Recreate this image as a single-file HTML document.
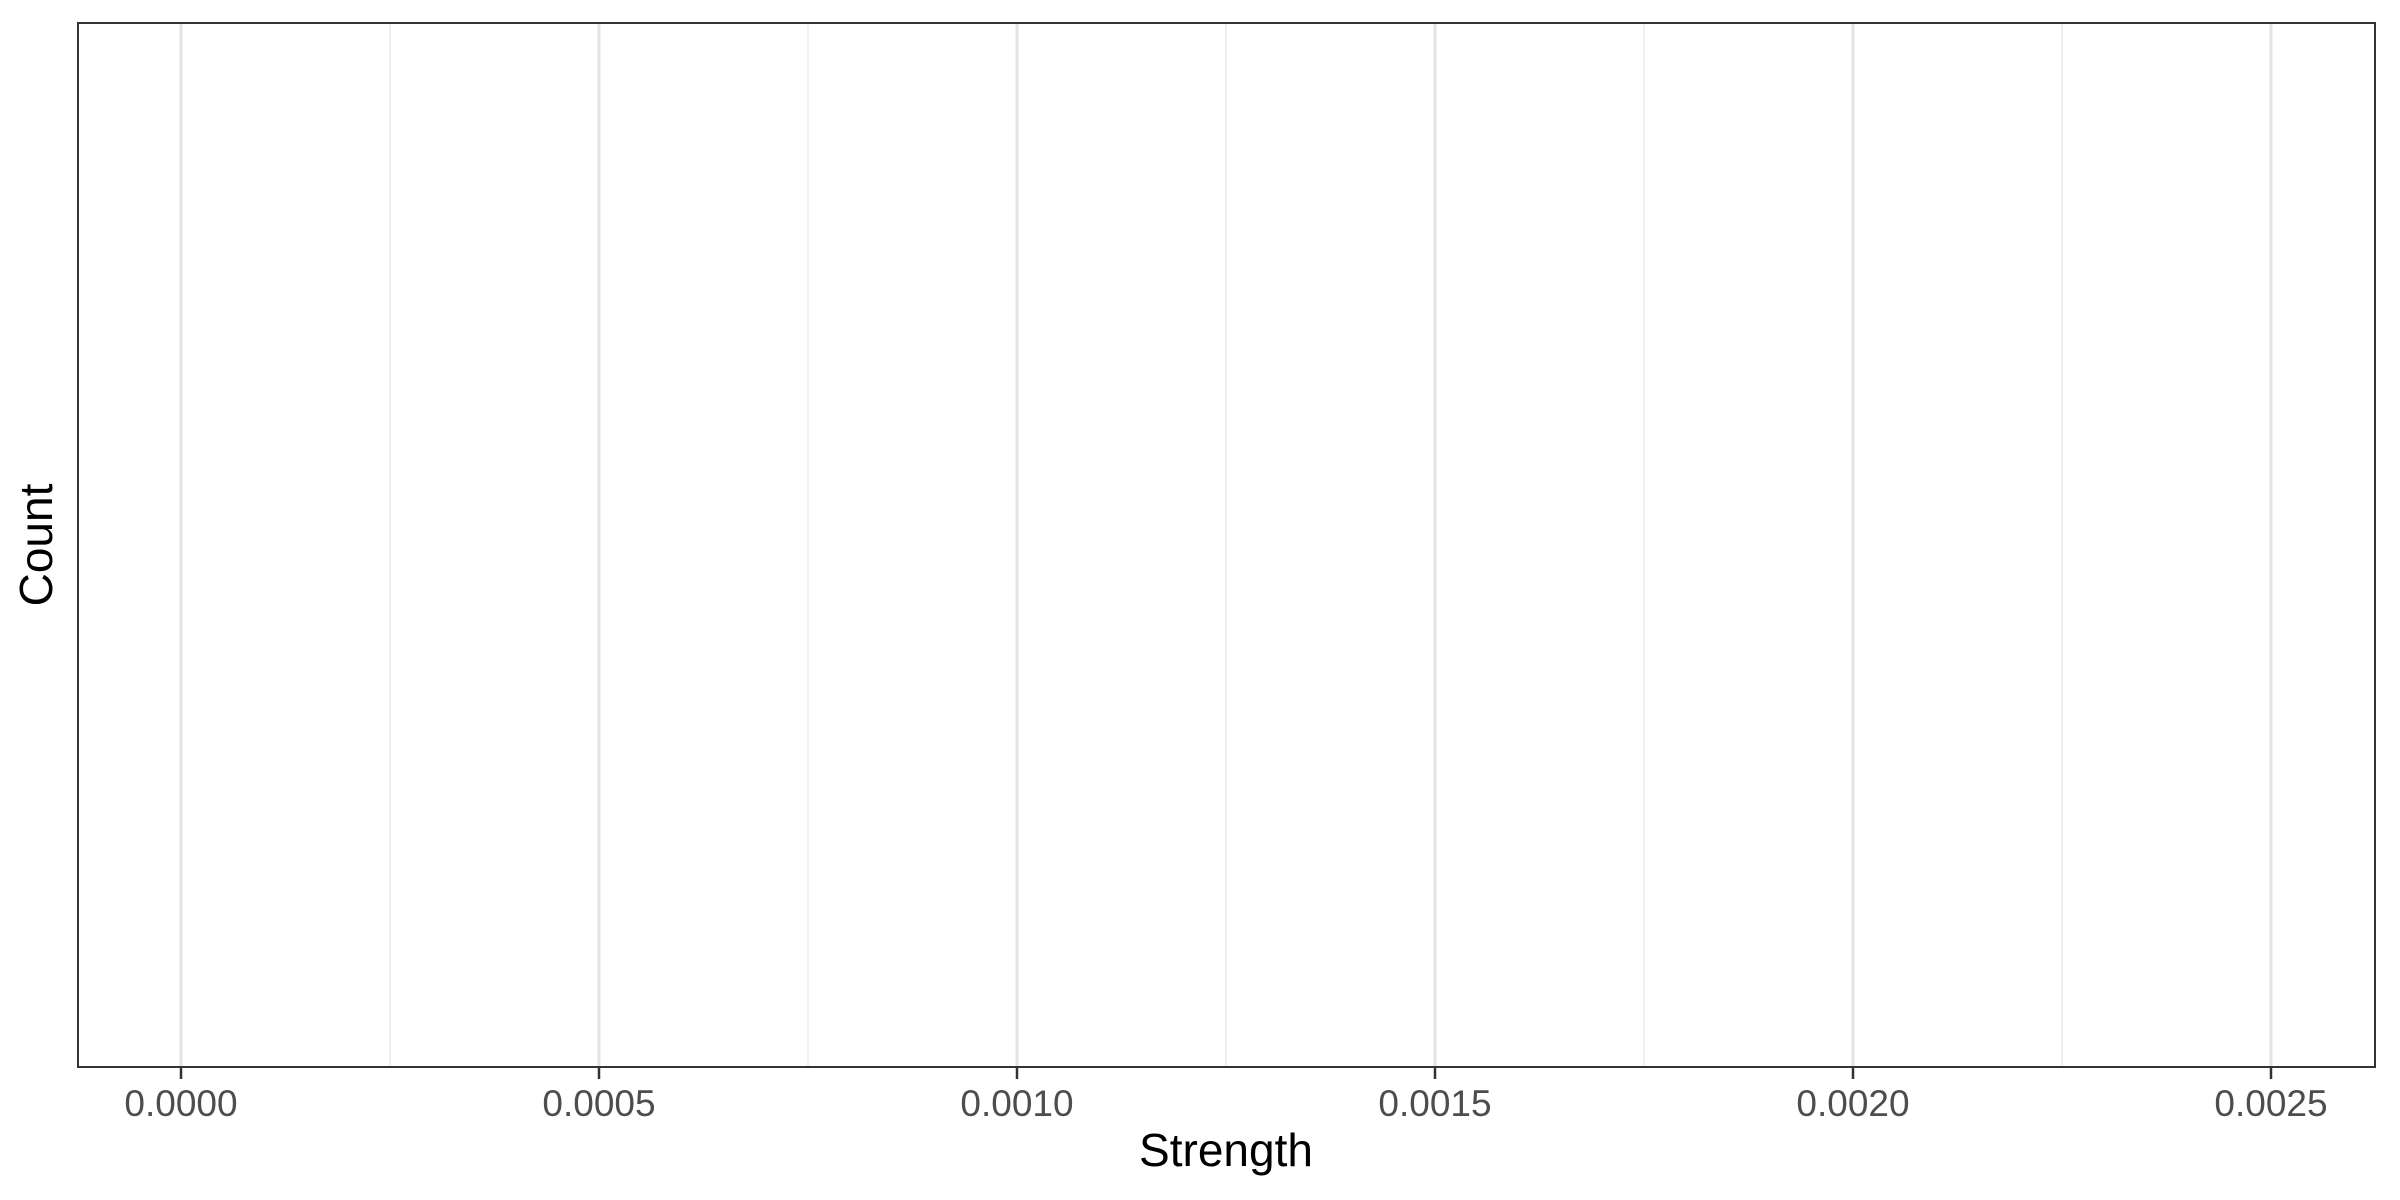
<!DOCTYPE html>
<html><head><meta charset="utf-8"><style>
html,body{margin:0;padding:0;background:#fff;}
svg{display:block;font-family:"Liberation Sans",Arial,sans-serif;}
</style></head><body>
<svg id="chart" width="2400" height="1200">
<rect width="2400" height="1200" fill="#fff"/>
<g id="grid"></g>
<rect x="78" y="23" width="2297" height="1044" fill="none" stroke="#333" stroke-width="2"/>
<g id="ticks"></g>
<text x="1226" y="1166" font-size="46" text-anchor="middle" fill="#000">Strength</text>
<text transform="translate(52,545) rotate(-90)" font-size="46" text-anchor="middle" fill="#000">Count</text>
</svg>
<script>
const xTicks=[0,0.0005,0.001,0.0015,0.002,0.0025];
const xTickLabels=["0.0000","0.0005","0.0010","0.0015","0.0020","0.0025"];
const xMinor=[0.00025,0.00075,0.00125,0.00175,0.00225];
const NS="http://www.w3.org/2000/svg";
function xs(v){return 181+v*(2271-181)/0.0025;}
const grid=document.getElementById('grid'),ticks=document.getElementById('ticks');
xMinor.forEach(v=>{const l=document.createElementNS(NS,'line');
l.setAttribute('x1',xs(v));l.setAttribute('x2',xs(v));l.setAttribute('y1',23);l.setAttribute('y2',1067);
l.setAttribute('stroke','#ebebeb');l.setAttribute('stroke-width','1.5');


grid.appendChild(l);});
xTicks.forEach((v,i)=>{const l=document.createElementNS(NS,'line');
l.setAttribute('x1',xs(v));l.setAttribute('x2',xs(v));l.setAttribute('y1',23);l.setAttribute('y2',1067);
l.setAttribute('stroke','#e3e3e3');l.setAttribute('stroke-width','3');


grid.appendChild(l);
const t=document.createElementNS(NS,'line');
t.setAttribute('x1',xs(v));t.setAttribute('x2',xs(v));t.setAttribute('y1',1068);t.setAttribute('y2',1079);
t.setAttribute('stroke','#333');t.setAttribute('stroke-width','2.5');


ticks.appendChild(t);
const tx=document.createElementNS(NS,'text');
tx.setAttribute('x',xs(v));tx.setAttribute('y',1116);tx.setAttribute('font-size','37');
tx.setAttribute('text-anchor','middle');tx.setAttribute('fill','#4d4d4d');
tx.textContent=xTickLabels[i];


ticks.appendChild(tx);});
</script>
</body></html>
